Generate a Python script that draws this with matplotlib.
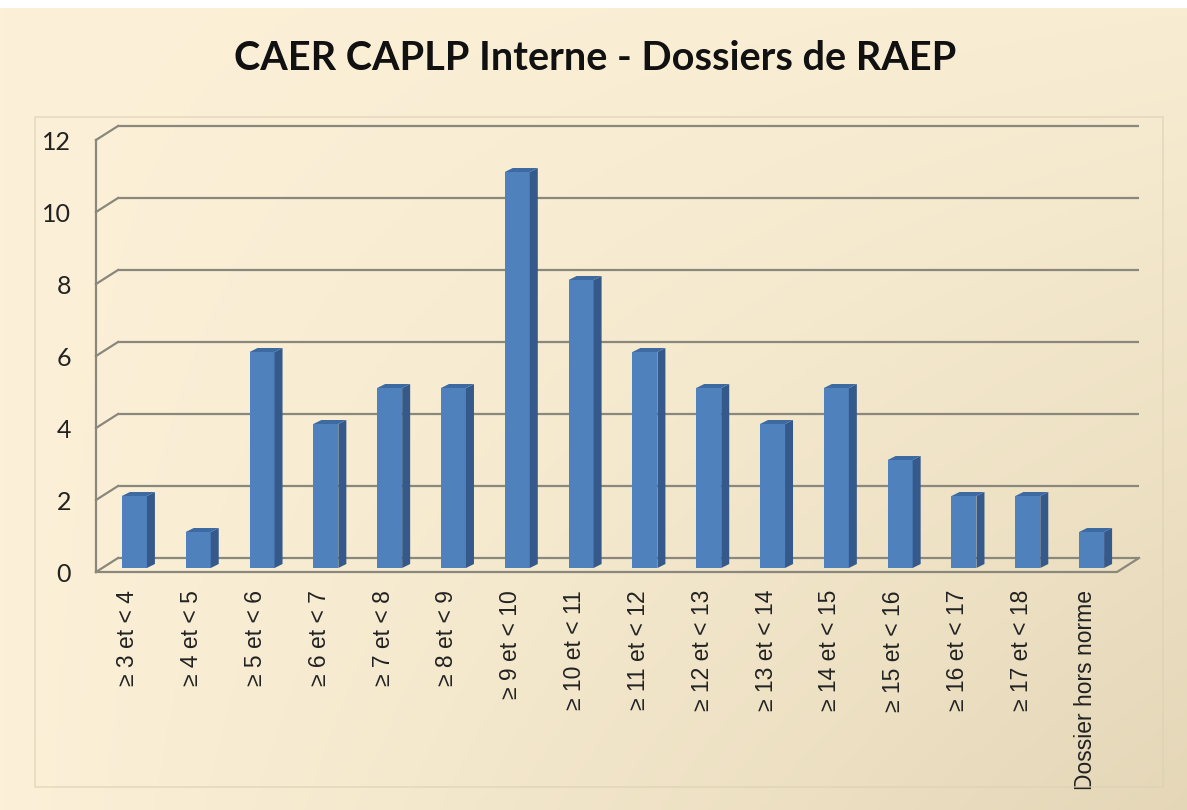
import numpy as np
import matplotlib.pyplot as plt
from matplotlib.patches import Polygon, Rectangle

categories = ['≥ 3 et < 4', '≥ 4 et < 5', '≥ 5 et < 6', '≥ 6 et < 7', '≥ 7 et < 8',
              '≥ 8 et < 9', '≥ 9 et < 10', '≥ 10 et < 11', '≥ 11 et < 12', '≥ 12 et < 13',
              '≥ 13 et < 14', '≥ 14 et < 15', '≥ 15 et < 16', '≥ 16 et < 17', '≥ 17 et < 18',
              'Dossier hors norme']
counts = [2, 1, 6, 4, 5, 5, 11, 8, 6, 5, 4, 5, 3, 2, 2, 1]
yticks = [0, 2, 4, 6, 8, 10, 12]

W, H = 1187, 810
fig = plt.figure(figsize=(W / 100, H / 100), dpi=100)
fig.patch.set_facecolor('white')

# background gradient (cream to tan, darker towards bottom right)
bg = fig.add_axes([0, 0, 1, 802 / H])
gx, gy = np.meshgrid(np.linspace(0, 1, 300), np.linspace(0, 1, 200))
t = np.clip(0.75 * gx * gy + 0.15 * gx, 0, 1)
c0 = np.array([252, 241, 216]) / 255
c1 = np.array([226, 212, 180]) / 255
img = c0[None, None, :] * (1 - t[..., None]) + c1[None, None, :] * t[..., None]
bg.imshow(img, extent=[0, 1, 0, 1], aspect='auto', origin='upper')
bg.set_xlim(0, 1)
bg.set_ylim(0, 1)
bg.axis('off')

# faint frame of the plot area
fx0, fx1 = 35 / W, 1163 / W
fy0, fy1 = 1 - 787 / H, 1 - 117 / H
fig.patches.append(Rectangle((fx0, fy0), fx1 - fx0, fy1 - fy0, transform=fig.transFigure,
                             fill=False, edgecolor='#ddd2b4', lw=1.2, alpha=0.7))

ax = fig.add_axes([96 / W, 1 - 572 / H, (1117 - 96) / W, (572 - 140) / H])
ax.patch.set_alpha(0)
ax.set_xlim(-0.5, 15.5)
ax.set_ylim(0, 12)

px_x = (1117 - 96) / 16.0   # pixels per category
px_y = (572 - 140) / 12.0   # pixels per unit
BX, BY = 22 / px_x, 14 / px_y          # back wall offset
OX, OY = 6.5 / px_x, 4 / px_y          # bar offset from front plane
DX, DY = 8 / px_x, 4 / px_y            # bar depth
bw = 25 / px_x

grid_c = '#8a877c'
for v in yticks:
    ax.plot([-0.5 + BX, 15.5 + BX], [v + BY, v + BY], color=grid_c, lw=1.6,
            clip_on=False, zorder=1, solid_capstyle='butt')
    ax.plot([-0.5, -0.5 + BX], [v, v + BY], color=grid_c, lw=1.6, clip_on=False, zorder=1)
ax.plot([-0.5, -0.5], [0, 12], color=grid_c, lw=1.6, clip_on=False, zorder=1)
ax.plot([-0.5, 15.5, 15.5 + BX], [0, 0, BY], color=grid_c, lw=1.6, clip_on=False, zorder=1)

front_c = '#4f81bd'
side_c = '#34598a'
top_c = '#3e6aa2'
x = np.arange(len(counts))
for i, v in zip(x, counts):
    x0 = i - bw / 2 + OX
    x1 = i + bw / 2 + OX
    y0 = OY
    y1 = OY + v
    ax.add_patch(Rectangle((x0, y0), bw, v, facecolor=front_c, edgecolor='none', zorder=3,
                           clip_on=False))
    ax.add_patch(Polygon([(x1, y0), (x1 + DX, y0 + DY), (x1 + DX, y1 + DY), (x1, y1)],
                         facecolor=side_c, edgecolor='none', zorder=3, clip_on=False))
    ax.add_patch(Polygon([(x0, y1), (x0 + DX, y1 + DY), (x1 + DX, y1 + DY), (x1, y1)],
                         facecolor=top_c, edgecolor='none', zorder=3, clip_on=False))

for s in ax.spines.values():
    s.set_visible(False)
ax.set_yticks(yticks)
ax.set_yticklabels([str(v) for v in yticks], fontsize=18, family='Lato', color='#222222')
ax.set_xticks(x)
ax.set_xticklabels(categories, rotation=90, fontsize=16.5, family='Liberation Sans',
                   color='#222222', va='top', ha='center')
ax.tick_params(axis='y', length=0, pad=18)
ax.tick_params(axis='x', length=0, pad=13)

fig.text(595 / W, 1 - 58 / H, 'CAER CAPLP Interne - Dossiers de RAEP', ha='center', va='center',
         fontsize=28.5, fontweight='bold', family='Lato', color='#111111')

fig.savefig('out.png', dpi=100)
